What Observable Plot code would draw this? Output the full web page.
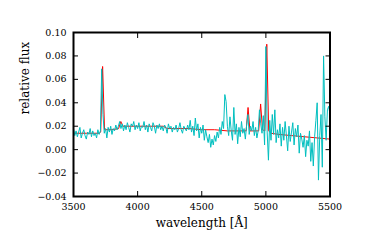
<!DOCTYPE html>
<html><head><meta charset="utf-8">
<script src="https://cdn.jsdelivr.net/npm/d3@7"></script>
<script src="https://cdn.jsdelivr.net/npm/@observablehq/plot@0.6"></script>
<style>body{margin:0;background:#fff;} svg, svg text{font-family:"DejaVu Serif", serif !important;}</style>
</head><body><div id="chart"></div>
<script>
// Observed spectrum (cyan), sampled every 10 Å from 3500 Å
const obsStart = 3500, obsStep = 10;
const obsFlux = [
  0.018, 0.012, 0.016, 0.011, 0.015, 0.019, 0.010, 0.014, 0.017, 0.012,
  0.009, 0.015, 0.013, 0.018, 0.011, 0.016, 0.012, 0.014, 0.010, 0.017,
  0.013, 0.016, 0.069, 0.030, 0.014, 0.018, 0.010, 0.019, 0.015, 0.020,
  0.013, 0.018, 0.016, 0.021, 0.017, 0.020, 0.024, 0.018, 0.022, 0.016,
  0.021, 0.017, 0.023, 0.019, 0.015, 0.022, 0.020, 0.024, 0.017, 0.021,
  0.018, 0.023, 0.016, 0.020, 0.019, 0.024, 0.017, 0.021, 0.015, 0.022,
  0.019, 0.016, 0.023, 0.020, 0.014, 0.021, 0.018, 0.022, 0.017, 0.020,
  0.016, 0.021, 0.019, 0.014, 0.022, 0.018, 0.020, 0.015, 0.019, 0.017,
  0.021, 0.015, 0.018, 0.023, 0.017, 0.014, 0.020, 0.018, 0.016, 0.021,
  0.017, 0.025, 0.015, 0.020, 0.012, 0.027, 0.016, 0.022, 0.010, 0.019,
  0.014, 0.021, 0.008, 0.017, 0.011, 0.006, 0.013, 0.002, 0.009, 0.004,
  0.012, 0.007, 0.015, 0.010, 0.019, 0.013, 0.024, 0.018, 0.047, 0.041,
  0.020, 0.012, 0.028, 0.016, 0.008, 0.036, 0.013, 0.022, 0.005, 0.019,
  0.011, 0.024, 0.014, 0.018, 0.009, 0.021, 0.030, 0.013, 0.020, 0.016,
  0.024, 0.012, 0.019, 0.010, 0.016, 0.034, 0.022, 0.014, 0.029, 0.004,
  0.088, 0.015, -0.009, 0.025, 0.008, 0.030, 0.013, 0.034, 0.006, 0.017,
  0.010, 0.022, 0.003, 0.019, 0.008, 0.024, 0.012, -0.001, 0.020, 0.007,
  0.015, 0.023, 0.004, 0.018, 0.011, 0.021, -0.003, 0.014, 0.009, 0.002,
  0.012, -0.006, 0.008, 0.003, 0.016, -0.010, 0.006, -0.014, 0.011, 0.025,
  0.040, -0.026, 0.012, 0.030, -0.015, 0.080, 0.028, 0.008, 0.034, 0.037,
  0.030
];
// Model spectrum (red)
const modelWave = [3500,3600,3700,3712,3727,3742,3800,3852,3869,3886,3950,4100,4200,4230,4400,4500,4600,4700,4846,4861,4876,4944,4959,4974,4992,5007,5022,5040,5100,5200,5300,5400,5500];
const modelFlux = [0.014,0.014,0.014,0.015,0.071,0.017,0.017,0.018,0.024,0.020,0.020,0.020,0.020,0.018,0.018,0.017,0.017,0.016,0.016,0.036,0.016,0.016,0.039,0.017,0.016,0.090,0.016,0.014,0.013,0.012,0.011,0.010,0.009];
const xTicks = [3500, 4000, 4500, 5000, 5500];
const yTicks = [-0.04, -0.02, 0.00, 0.02, 0.04, 0.06, 0.08, 0.10];

const obs = obsFlux.map((f, i) => ({w: obsStart + i * obsStep, f}));
const model = modelWave.map((w, i) => ({w, f: modelFlux[i]}));

const serif = "DejaVu Serif";
const fmt = d3.format(".2f");
const chart = Plot.plot({
  width: 366, height: 246,
  marginLeft: 73, marginRight: 36.5, marginTop: 32, marginBottom: 50,
  style: {fontFamily: serif, fontSize: "9.5px", background: "white", color: "black"},
  x: {domain: [3500, 5500]},
  y: {domain: [-0.04, 0.10]},
  marks: [
    Plot.line(model, {x: "w", y: "f", stroke: "#ff0000", strokeWidth: 1}),
    Plot.line(obs, {x: "w", y: "f", stroke: "#00bfbf", strokeWidth: 1}),
    // tick labels
    Plot.axisX({ticks: xTicks, tickSize: 0, tickPadding: 7, tickFormat: d => String(d), label: null, fontFamily: serif}),
    Plot.axisY({ticks: yTicks, tickSize: 0, tickPadding: 7, tickFormat: fmt, label: null, fontFamily: serif}),
    // inward ticks on all four sides
    Plot.axisX({anchor: "bottom", ticks: xTicks, tickSize: 5, dy: -5, tickFormat: () => "", label: null}),
    Plot.axisX({anchor: "top", ticks: xTicks, tickSize: 5, dy: 5, tickFormat: () => "", label: null}),
    Plot.axisY({anchor: "left", ticks: yTicks, tickSize: 5, dx: 5, tickFormat: () => "", label: null}),
    Plot.axisY({anchor: "right", ticks: yTicks, tickSize: 5, dx: -5, tickFormat: () => "", label: null}),
    Plot.text(["wavelength [Å]"], {frameAnchor: "bottom", dy: 30, fontSize: 12, fontFamily: serif}),
    Plot.text(["relative flux"], {frameAnchor: "left", dx: -48, rotate: -90, fontSize: 12, fontFamily: serif}),
    Plot.frame({stroke: "black", strokeWidth: 2})
  ]
});
document.getElementById("chart").appendChild(chart);
</script>
</body></html>
